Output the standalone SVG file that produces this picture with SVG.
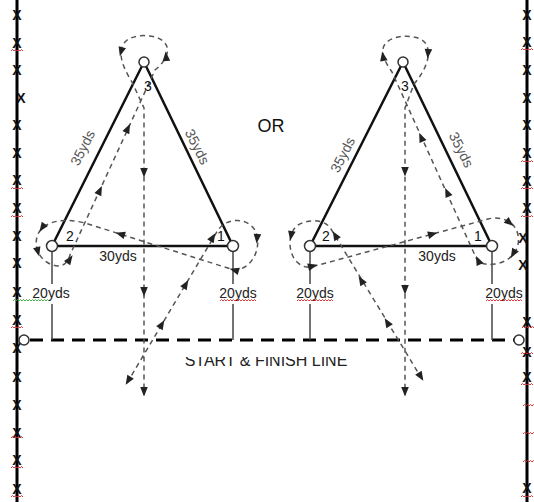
<svg xmlns="http://www.w3.org/2000/svg" xmlns:xlink="http://www.w3.org/1999/xlink" width="534" height="502" viewBox="0 0 534 502">
<style>
.fence{stroke:#000;stroke-width:3;fill:none}
.xm{font-family:"Liberation Sans",Arial,sans-serif;font-size:14px;font-weight:bold;fill:#111;text-anchor:middle}
.edge{stroke:#111;stroke-width:2.5;fill:none;stroke-linecap:round}
.stem{stroke:#444;stroke-width:1.5;fill:none}
.route{stroke:#555;stroke-width:1.5;fill:none;stroke-dasharray:5 4}
.start{stroke:#000;stroke-width:3;fill:none;stroke-dasharray:13 8}
.vtx{fill:#fff;stroke:#333;stroke-width:1.5}
.lbl{font-family:"Liberation Sans",Arial,sans-serif;font-size:14px;fill:#222;text-anchor:middle}
.lbl2{font-family:"Liberation Sans",Arial,sans-serif;font-size:14px;fill:#555;text-anchor:middle}
.num{font-family:"Liberation Sans",Arial,sans-serif;font-size:14px;fill:#111;text-anchor:middle}
.red{stroke:#d22;stroke-width:0.9;fill:none}
.grn{stroke:#3a3;stroke-width:0.9;fill:none}
.ah{fill:#222}
</style>
<defs>
<path id="ah" d="M4.5,0 L-5,-3.8 L-5,3.8 Z"/>
<path id="sq" d="M0,0 l1.5,-1.5 l1.5,1.5 l1.5,-1.5 l1.5,1.5 l1.5,-1.5 l1.5,1.5 l1.5,-1.5 l1.5,1.5"/>
<clipPath id="clipText"><rect x="0" y="357" width="534" height="20"/></clipPath>
</defs>

<g id="fence-left">
<line class="fence" x1="17" y1="0" x2="17" y2="502"/>
<g class="xm">
<text x="17" y="20">X</text><text x="17" y="48">X</text><text x="17" y="75">X</text><text x="21" y="103">X</text>
<text x="17" y="130">X</text><text x="17" y="158">X</text><text x="17" y="185">X</text><text x="17" y="213">X</text>
<text x="17" y="241">X</text><text x="17" y="268">X</text><text x="17" y="297">X</text><text x="17" y="325">X</text>
<text x="17" y="353">X</text><text x="17" y="382">X</text><text x="17" y="410">X</text><text x="17" y="438">X</text>
<text x="17" y="465">X</text><text x="17" y="494">X</text>
</g>
<use href="#sq" class="red" x="11" y="51"/><use href="#sq" class="red" x="11" y="189"/><use href="#sq" class="red" x="11" y="217"/>
<use href="#sq" class="red" x="11" y="328"/><use href="#sq" class="red" x="11" y="438"/><use href="#sq" class="red" x="11" y="468"/>
<use href="#sq" class="red" x="11" y="497"/>
</g>

<g id="fence-right">
<line class="fence" x1="527" y1="0" x2="527" y2="502"/>
<g class="xm">
<text x="527" y="20">X</text><text x="527" y="47">X</text><text x="527" y="75">X</text><text x="527" y="103">X</text>
<text x="527" y="130">X</text><text x="527" y="158">X</text><text x="527" y="186">X</text><text x="527" y="213">X</text>
<text x="523" y="243">X</text><text x="523" y="270">X</text><text x="527" y="327">X</text><text x="527" y="357">X</text>
<text x="527" y="382">X</text><text x="527" y="493">X</text>
</g>
<use href="#sq" class="red" x="521" y="50"/><use href="#sq" class="red" x="521" y="162"/><use href="#sq" class="red" x="521" y="189"/>
<use href="#sq" class="red" x="521" y="217"/><use href="#sq" class="red" x="522" y="328"/><use href="#sq" class="red" x="521" y="354"/>
<use href="#sq" class="red" x="521" y="385"/><use href="#sq" class="red" x="523" y="406"/><use href="#sq" class="red" x="523" y="434"/>
<use href="#sq" class="red" x="523" y="462"/><use href="#sq" class="red" x="521" y="497"/>
</g>

<g id="start-line">
<line class="start" x1="30" y1="340" x2="514" y2="340"/>
<circle class="vtx" cx="24" cy="340" r="5"/>
<circle class="vtx" cx="519" cy="340" r="5"/>
<text clip-path="url(#clipText)" x="266" y="366" style="font-family:'Liberation Sans',Arial,sans-serif;font-size:16px;fill:#222;text-anchor:middle">START &amp; FINISH LINE</text>
</g>

<text id="or" x="271" y="132" style="font-family:'Liberation Sans',Arial,sans-serif;font-size:18px;fill:#111;text-anchor:middle">OR</text>

<g id="connectors">
<g id="edges-left">
<path class="edge" d="M52,246 L144,62 L233,246 Z"/>
<line class="stem" x1="52" y1="251" x2="52" y2="284"/><line class="stem" x1="52" y1="304" x2="52" y2="340"/>
<line class="stem" x1="233" y1="251" x2="233" y2="284"/><line class="stem" x1="233" y1="304" x2="233" y2="340"/>
</g>
<g id="edges-right">
<path class="edge" d="M310,246 L403,62 L492,246 Z"/>
<line class="stem" x1="310" y1="251" x2="310" y2="284"/><line class="stem" x1="310" y1="304" x2="310" y2="340"/>
<line class="stem" x1="492" y1="251" x2="492" y2="284"/><line class="stem" x1="492" y1="304" x2="492" y2="340"/>
</g>
<path id="route-left" class="route" d="M127,383 L218,230 C226,218 248,216 256,232 C262,248 252,270 234,270 L85,223 C65,218 45,220 38,234 C32,248 42,265 58,266 C64,266 68,262 70,255 L155,70 C165,62 172,50 164,42 C157,34 133,33 125,42 C117,52 122,66 132,82 L144,108 L144,395"/>
<path id="route-right" class="route" d="M422,379 L331,229 C326,220 310,218 298,225 C288,232 287,252 297,262 C303,268 310,268 315,266 L488,219 C500,216 515,220 518,235 C521,250 510,262 495,264 C488,265 482,264 478,262 L392,72 C385,62 378,50 387,42 C396,34 420,34 426,44 C432,54 426,70 414,84 L405,108 L405,395"/>
<g id="arrows" class="ah">
<use href="#ah" transform="translate(128,381) rotate(121)"/>
<use href="#ah" transform="translate(162,324) rotate(-59)"/>
<use href="#ah" transform="translate(186,284) rotate(-59)"/>
<use href="#ah" transform="translate(213,237) rotate(-59)"/>
<use href="#ah" transform="translate(257,239) rotate(95)"/>
<use href="#ah" transform="translate(234,270) rotate(197)"/>
<use href="#ah" transform="translate(120,234) rotate(197)"/>
<use href="#ah" transform="translate(42,228) rotate(125)"/>
<use href="#ah" transform="translate(38,252) rotate(75)"/>
<use href="#ah" transform="translate(70,259) rotate(-55)"/>
<use href="#ah" transform="translate(100,190) rotate(-65)"/>
<use href="#ah" transform="translate(128,128) rotate(-65)"/>
<use href="#ah" transform="translate(166,56) rotate(-95)"/>
<use href="#ah" transform="translate(121,52) rotate(105)"/>
<use href="#ah" transform="translate(144,173) rotate(90)"/>
<use href="#ah" transform="translate(144,292) rotate(90)"/>
<use href="#ah" transform="translate(144,392) rotate(90)"/>

<use href="#ah" transform="translate(421,377) rotate(59)"/>
<use href="#ah" transform="translate(387,322) rotate(-121)"/>
<use href="#ah" transform="translate(361,280) rotate(-121)"/>
<use href="#ah" transform="translate(335,235) rotate(-121)"/>
<use href="#ah" transform="translate(291,236) rotate(100)"/>
<use href="#ah" transform="translate(313,266) rotate(-15)"/>
<use href="#ah" transform="translate(433,234) rotate(-15)"/>
<use href="#ah" transform="translate(510,223) rotate(40)"/>
<use href="#ah" transform="translate(513,254) rotate(120)"/>
<use href="#ah" transform="translate(478,260) rotate(-114)"/>
<use href="#ah" transform="translate(447,192) rotate(-114)"/>
<use href="#ah" transform="translate(421,137) rotate(-114)"/>
<use href="#ah" transform="translate(383,56) rotate(-100)"/>
<use href="#ah" transform="translate(428,54) rotate(95)"/>
<use href="#ah" transform="translate(405,172) rotate(90)"/>
<use href="#ah" transform="translate(405,290) rotate(90)"/>
<use href="#ah" transform="translate(405,392) rotate(90)"/>
</g>
</g>

<g id="labels-left">
<text class="lbl2" transform="translate(87,150) rotate(-63)">35yds</text>
<text class="lbl2" transform="translate(193,149) rotate(63)">35yds</text>
<text class="lbl" x="118" y="261">30yds</text>
<text class="lbl" x="51" y="298">20yds</text>
<text class="lbl" x="238" y="298">20yds</text>
<use href="#sq" class="grn" x="13" y="301"/><use href="#sq" class="grn" x="25" y="301"/><use href="#sq" class="grn" x="37" y="301"/>
<use href="#sq" class="red" x="220" y="301"/><use href="#sq" class="red" x="232" y="301"/><use href="#sq" class="red" x="244" y="301"/>
</g>
<g id="labels-right">
<text class="lbl2" transform="translate(347,157) rotate(-63)">35yds</text>
<text class="lbl2" transform="translate(457,152) rotate(63)">35yds</text>
<text class="lbl" x="437" y="261">30yds</text>
<text class="lbl" x="315" y="298">20yds</text>
<text class="lbl" x="504" y="298">20yds</text>
<use href="#sq" class="red" x="297" y="301"/><use href="#sq" class="red" x="309" y="301"/><use href="#sq" class="red" x="321" y="301"/>
<use href="#sq" class="red" x="486" y="301"/><use href="#sq" class="red" x="498" y="301"/><use href="#sq" class="red" x="510" y="301"/>
</g>

<g id="node-L3"><circle class="vtx" cx="144" cy="62" r="5"/><text class="num" x="148" y="91">3</text></g>
<g id="node-L2"><circle class="vtx" cx="52" cy="246" r="5.5"/><text class="num" x="70" y="241">2</text></g>
<g id="node-L1"><circle class="vtx" cx="233" cy="246" r="5.5"/><text class="num" x="221" y="241">1</text></g>
<g id="node-R3"><circle class="vtx" cx="403" cy="62" r="5"/><text class="num" x="405" y="91">3</text></g>
<g id="node-R2"><circle class="vtx" cx="310" cy="246" r="5.5"/><text class="num" x="326" y="241">2</text></g>
<g id="node-R1"><circle class="vtx" cx="492" cy="246" r="5.5"/><text class="num" x="478" y="241">1</text></g>
</svg>
